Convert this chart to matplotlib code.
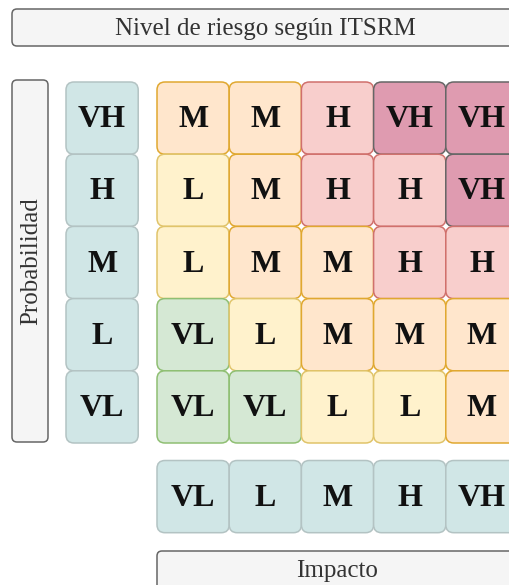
import matplotlib.pyplot as plt
from matplotlib.patches import FancyBboxPatch

# data
prob_labels = ["VH", "H", "M", "L", "VL"]      # top to bottom
impact_labels = ["VL", "L", "M", "H", "VH"]    # left to right
risk = [
    ["M", "M", "H", "VH", "VH"],
    ["L", "M", "H", "H", "VH"],
    ["L", "M", "M", "H", "H"],
    ["VL", "L", "M", "M", "M"],
    ["VL", "VL", "L", "L", "M"],
]
title = "Nivel de riesgo según ITSRM"
ylab = "Probabilidad"
xlab = "Impacto"

# styles
fills = {"VL": "#d5e8d4", "L": "#fff2cc", "M": "#ffe6cc", "H": "#f8cecc", "VH": "#df9bb0"}
edges = {"VL": "#8fbf73", "L": "#e0c46a", "M": "#e0a830", "H": "#d0706c", "VH": "#666666"}
lab_fill, lab_edge = "#d0e6e6", "#b3c3c3"
box_fill, box_edge = "#f5f5f5", "#666666"
serif = ["Liberation Serif", "DejaVu Serif"]

W, H = 509, 585
fig = plt.figure(figsize=(W / 100, H / 100), dpi=100)
ax = fig.add_axes([0, 0, 1, 1])
ax.set_xlim(0, W)
ax.set_ylim(H, 0)
ax.axis("off")

cw = 72.2
x0, y0 = 157, 82
lx = 66
by = 460.5


def rbox(x, y, w, h, fc, ec, r=8, lw=1.1):
    p = FancyBboxPatch((x, y), w, h, boxstyle="round,pad=0,rounding_size=%g" % r,
                       fc=fc, ec=ec, lw=lw, clip_on=False)
    ax.add_patch(p)


def label(x, y, s, size=23, weight="bold", color="#111111", rot=0):
    ax.text(x, y, s, ha="center", va="center", fontsize=size, fontweight=weight,
            color=color, family=serif, rotation=rot)


# title and axis boxes
rbox(12, 9, 506, 37, box_fill, box_edge, r=5)
label(265, 29.5, title, size=18, weight="normal", color="#333333")
rbox(12, 80, 36, 362, box_fill, box_edge, r=5)
label(31, 261, ylab, size=18, weight="normal", color="#333333", rot=90)
rbox(157, 551, 361, 40, box_fill, box_edge, r=5)
label(337, 571, xlab, size=18, weight="normal", color="#333333")

# row labels
for i, s in enumerate(prob_labels):
    y = y0 + i * cw
    rbox(lx, y, cw, cw, lab_fill, lab_edge)
    label(lx + cw / 2, y + cw / 2 + 1.5, s)

# column labels
for j, s in enumerate(impact_labels):
    x = x0 + j * cw
    rbox(x, by, cw, cw, lab_fill, lab_edge)
    label(x + cw / 2, by + cw / 2 + 1.5, s)

# matrix
for i, row in enumerate(risk):
    for j, s in enumerate(row):
        x = x0 + j * cw
        y = y0 + i * cw
        rbox(x, y, cw, cw, fills[s], edges[s])
        label(x + cw / 2, y + cw / 2 + 1.5, s)

fig.savefig("out.png", dpi=100)
